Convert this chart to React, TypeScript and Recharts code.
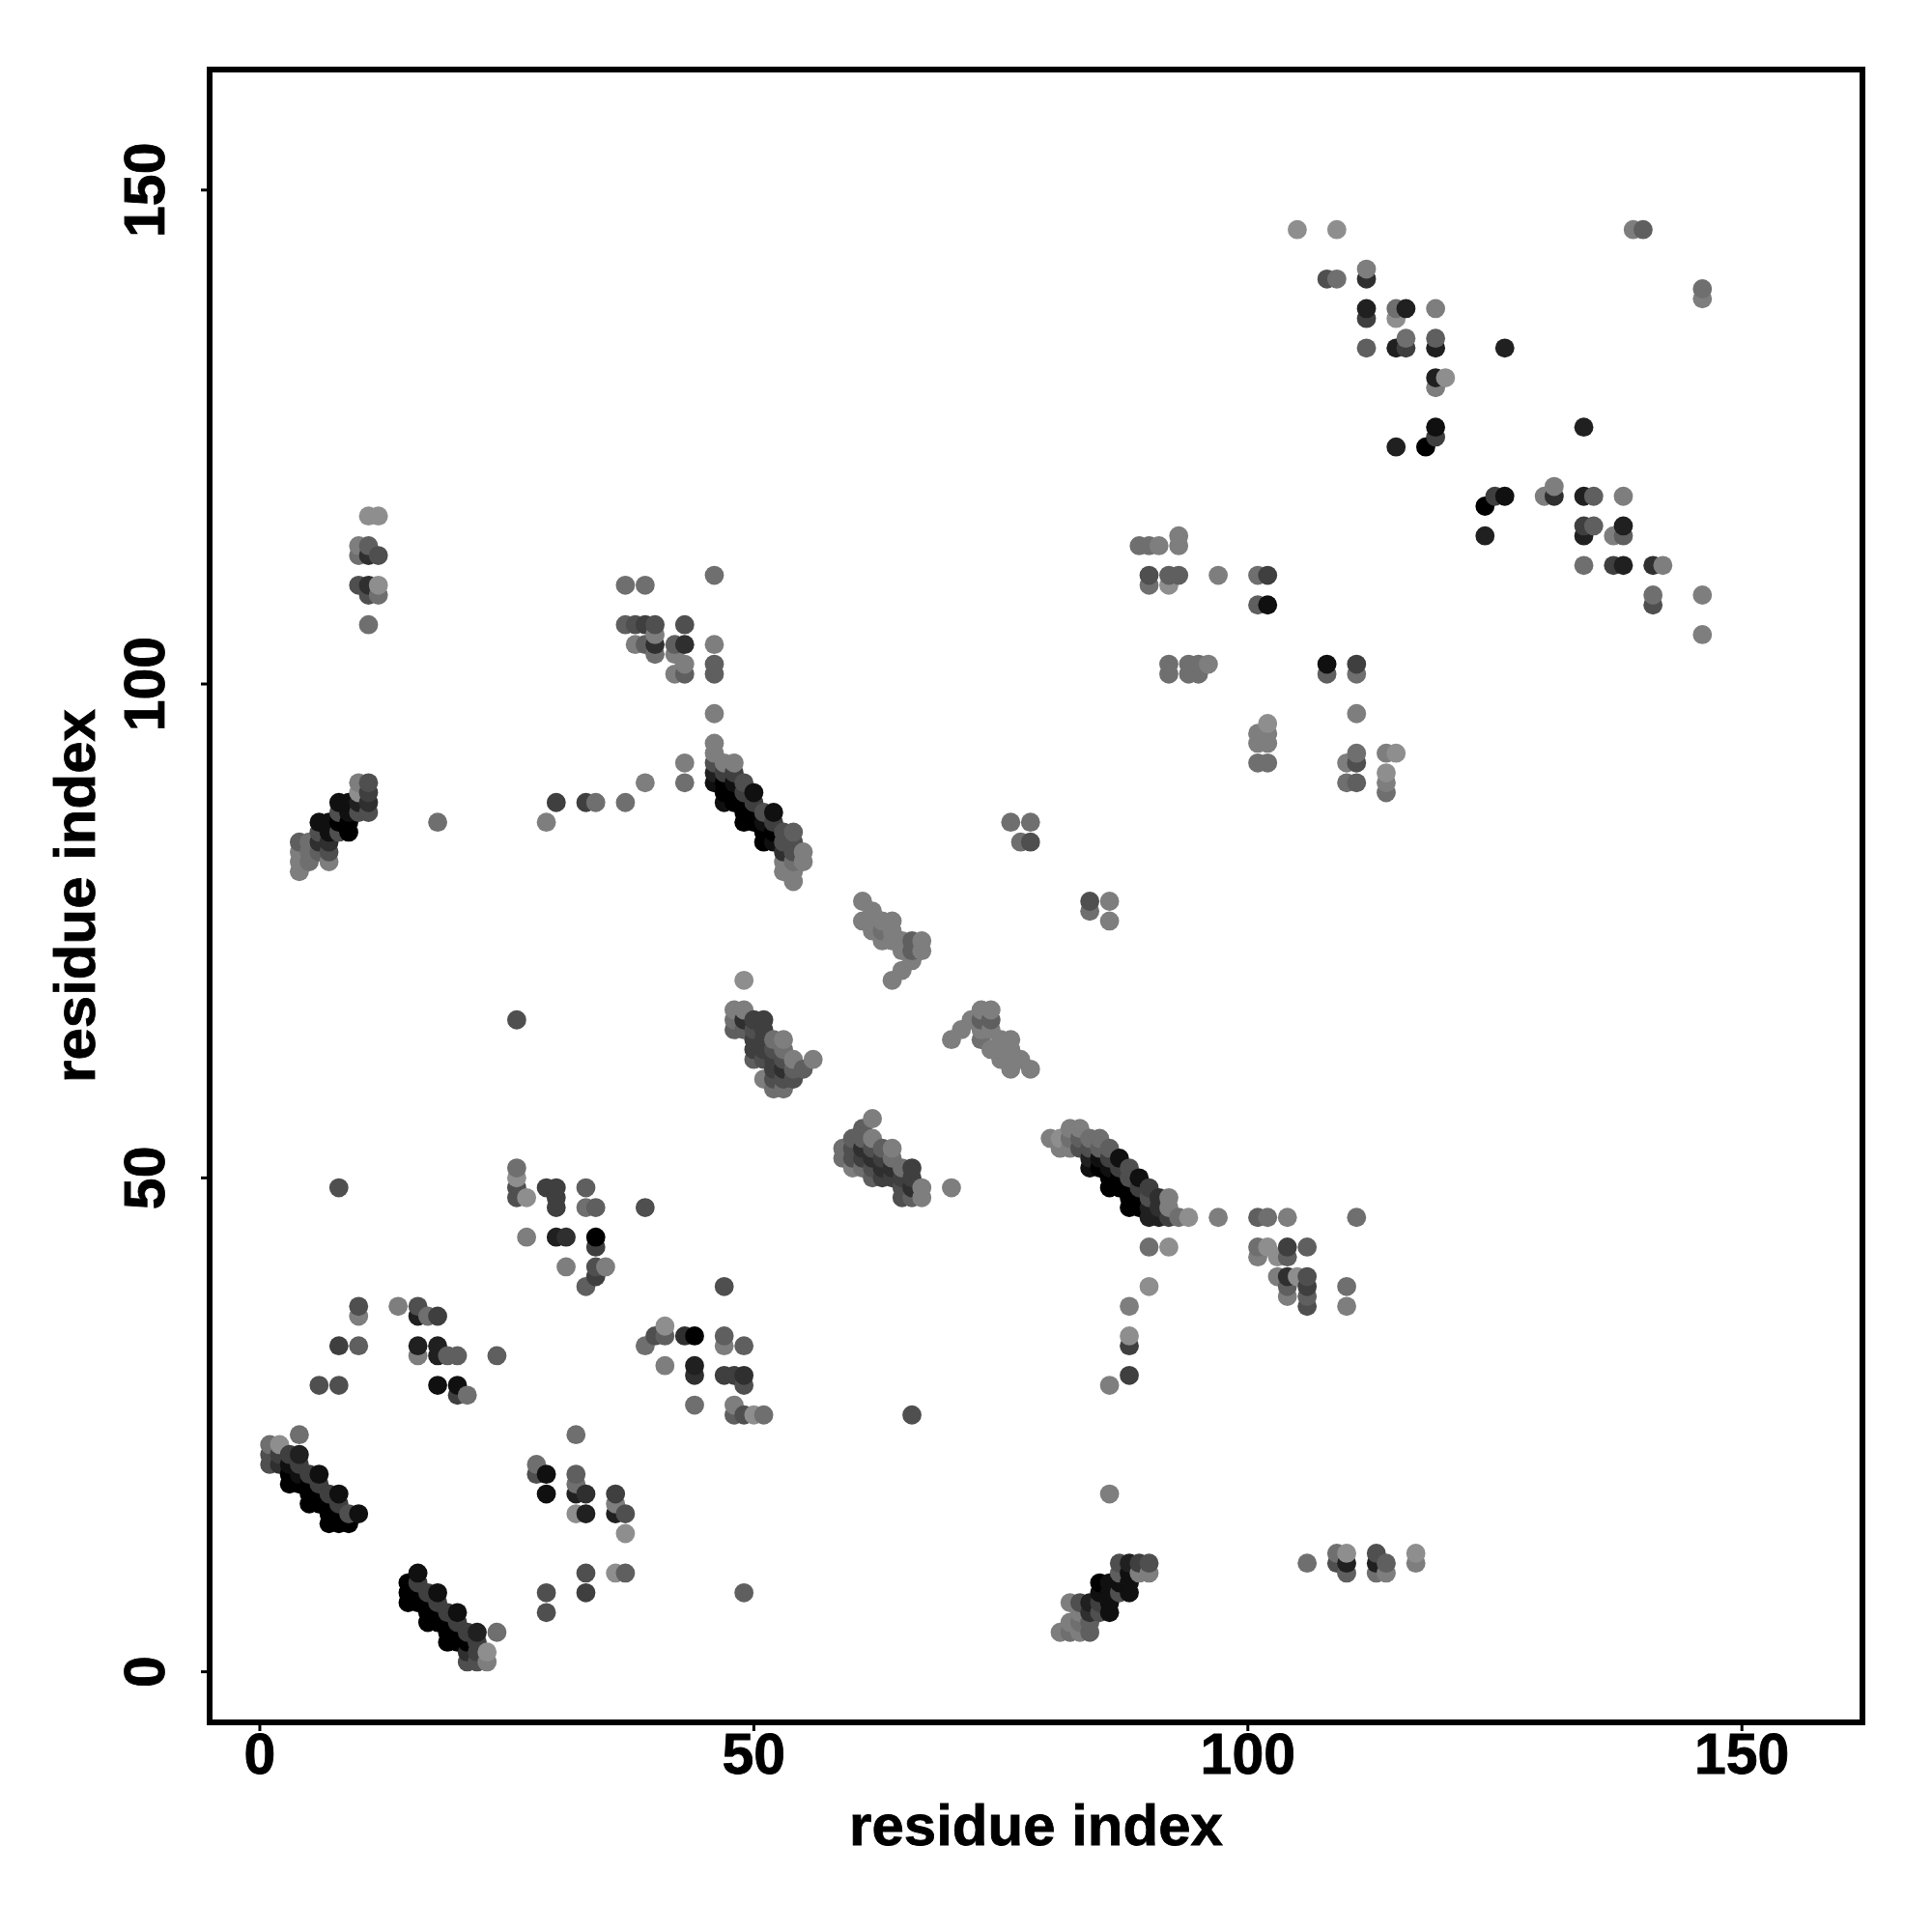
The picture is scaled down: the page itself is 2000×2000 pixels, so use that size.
import React from 'react';
import { ScatterChart, Scatter, XAxis, YAxis, ReferenceArea } from 'recharts';

type C = [number, number, number];

const axisTicks = [0, 50, 100, 150];
const xDomain = [-5.08, 162.2];
const yDomain = [-5.12, 162.2];

const helixA: C[] = [[4,24,7],[1,23,7],[2,23,9],[1,22,5],[1,21,5],[2,22,4],[2,21,3],[3,22,4],[4,22,2],[3,21,1],[4,21,4],[3,20,0],[3,19,0],[4,20,1],[5,20,4],[6,20,1],[4,19,0],[5,19,0],[6,19,4],[5,18,0],[6,18,0],[7,18,4],[8,18,1],[5,17,0],[6,17,0],[7,17,0],[8,17,4],[7,16,0],[8,16,0],[9,16,5],[10,16,1],[7,15,0],[8,15,0],[9,15,0]];
const helixB: C[] = [[16,10,1],[15,9,0],[15,8,0],[15,7,0],[16,9,4],[16,8,0],[16,7,0],[17,8,4],[18,8,1],[17,7,0],[17,6,0],[17,5,0],[18,7,4],[18,6,0],[18,5,0],[19,6,4],[20,6,1],[19,5,0],[19,4,0],[19,3,0],[20,5,4],[20,4,0],[20,3,0],[21,4,4],[22,4,2],[21,3,0],[21,2,3],[21,1,5],[22,3,4],[22,2,4],[22,1,5],[23,2,9],[23,1,8],[24,4,7]];
const lowLeftSparse: C[] = [[8,49,5],[10,37,5],[10,36,8],[8,33,4],[10,33,6],[6,29,5],[8,29,5],[14,37,8],[16,37,5],[16,36,2],[17,36,7],[18,36,4],[16,33,2],[16,32,8],[18,33,2],[18,32,2],[19,32,6],[20,32,6],[18,29,1],[20,29,1],[20,28,4],[21,28,7],[24,32,6],[26,66,5]];
const midLeftSparse: C[] = [[26,51,7],[26,50,9],[26,49,5],[26,48,5],[27,48,9],[27,44,8],[29,49,4],[30,49,4],[30,48,4],[30,47,4],[33,49,6],[33,47,7],[34,47,6],[39,47,5],[30,44,2],[31,44,3],[34,44,0],[34,43,4],[34,41,5],[35,41,8],[34,40,4],[33,39,6],[31,41,8],[47,39,5]];
const midSparse: C[] = [[41,35,9],[40,34,5],[41,34,6],[39,33,7],[43,34,3],[44,34,0],[41,31,8],[44,31,2],[44,30,3],[44,27,7],[47,34,6],[47,33,8],[49,33,6],[47,30,4],[48,30,4],[49,30,3],[49,29,5],[48,27,8],[48,26,6],[49,26,5],[50,26,9],[51,26,7],[66,26,5],[70,49,8],[49,70,9]];
const lowMidSparse: C[] = [[32,24,7],[28,21,7],[28,20,5],[29,20,1],[29,18,1],[32,20,6],[32,19,7],[32,18,2],[33,18,3],[32,16,9],[33,16,2],[36,18,4],[36,17,8],[36,16,2],[37,16,5],[37,14,9],[33,10,5],[36,10,9],[37,10,6],[29,8,5],[33,8,4],[29,6,5],[49,8,6]];
const sheetB: C[] = [[87,11,5],[88,11,2],[89,11,4],[90,11,5],[87,10,6],[88,10,1],[89,10,8],[90,10,8],[85,9,0],[86,9,1],[87,9,1],[88,9,1],[85,8,1],[86,8,1],[87,8,5],[88,8,1],[82,7,8],[83,7,5],[84,7,2],[85,7,4],[86,7,1],[83,6,8],[84,6,3],[85,6,5],[86,6,1],[82,5,8],[83,5,7],[84,5,6],[81,4,8],[82,4,7],[83,4,8],[84,4,6]];
const helixC: C[] = [[82,55,8],[83,55,8],[80,54,8],[81,54,9],[82,54,7],[83,54,6],[84,54,7],[85,54,7],[81,53,8],[82,53,8],[83,53,5],[84,53,5],[84,52,2],[84,51,1],[85,53,6],[85,52,1],[85,51,0],[86,53,6],[86,52,4],[86,51,1],[86,50,0],[86,49,0],[87,52,1],[87,51,4],[87,50,0],[87,49,0],[88,51,5],[88,50,5],[88,49,0],[88,48,0],[88,47,0],[89,50,1],[89,49,4],[89,48,0],[89,47,0],[90,49,4],[90,48,5],[90,47,2],[90,46,2],[91,48,3],[91,47,3],[91,46,2],[92,48,8],[92,47,8],[92,46,4],[93,46,7],[94,46,9],[97,46,8]];
const midRightSparse: C[] = [[101,46,6],[102,46,7],[104,46,8],[111,46,7],[90,43,7],[92,43,9],[101,43,7],[101,42,8],[102,43,9],[103,42,9],[104,43,4],[104,42,6],[106,43,6],[103,40,8],[104,40,3],[104,39,6],[104,38,8],[105,40,9],[106,40,5],[106,39,4],[106,38,6],[106,37,5],[110,39,7],[110,37,8]];
const verticalSparse: C[] = [[90,39,9],[88,37,8],[88,34,9],[88,33,4],[88,30,4],[86,29,8],[86,18,8]];
const lowRightSparse: C[] = [[106,11,7],[109,12,7],[109,11,5],[110,12,9],[110,11,2],[110,10,6],[113,12,5],[113,11,2],[113,10,7],[114,11,6],[114,10,8],[117,12,9],[117,11,8]];
const loopF: C[] = [[61,78,8],[62,77,8],[61,76,8],[62,76,8],[63,76,8],[64,76,8],[62,75,8],[63,75,7],[64,75,8],[63,74,8],[64,74,8],[65,74,8],[66,74,6],[67,74,8],[65,73,8],[66,73,6],[67,73,8],[66,72,8],[65,71,8],[64,70,8]];
const loopG: C[] = [[70,64,8],[71,65,8],[72,66,8],[73,67,8],[74,67,8],[73,66,6],[74,66,6],[73,65,8],[74,65,8],[73,64,7],[74,63,8],[75,62,8],[76,61,8],[78,61,8],[75,64,8],[76,64,8],[75,63,8],[76,63,8],[77,62,8],[76,62,8]];
const clusterD1: C[] = [[48,67,8],[49,67,8],[48,66,7],[48,65,6],[49,66,3],[49,65,6],[50,66,4],[51,66,4],[50,65,5],[51,65,4],[50,64,4],[50,63,4],[50,62,6],[51,64,4],[51,63,4],[51,62,5],[52,64,7],[53,64,8],[52,63,5],[52,62,4],[52,61,4],[51,60,8],[53,63,7],[53,62,5],[53,61,3],[52,60,5],[52,59,7],[53,59,7],[53,60,5],[54,62,8],[54,61,6],[54,60,5],[55,61,6],[56,62,8]];
const clusterD2: C[] = [[62,56,8],[61,55,6],[62,54,8],[60,54,6],[61,54,6],[59,53,7],[59,52,7],[60,53,5],[60,52,5],[60,51,8],[61,53,3],[61,52,4],[61,51,7],[62,52,3],[62,53,5],[62,51,5],[62,50,6],[63,53,6],[64,53,8],[63,52,4],[63,51,3],[63,50,4],[64,52,7],[64,51,3],[64,50,4],[65,51,7],[65,50,4],[66,51,4],[66,50,4],[66,49,3],[67,49,8],[67,48,8],[65,49,5],[65,48,5],[66,48,6]];
const helixE: C[] = [[46,94,8],[46,93,8],[46,92,5],[46,91,2],[46,90,1],[47,92,8],[48,92,8],[47,91,4],[47,90,0],[47,89,0],[47,88,1],[48,91,4],[48,90,1],[48,89,0],[48,88,0],[49,90,5],[49,89,4],[49,88,0],[49,87,0],[49,86,0],[50,89,1],[50,88,4],[50,87,0],[50,86,0],[51,87,5],[52,87,1],[51,86,1],[51,85,0],[51,84,0],[52,86,4],[52,85,0],[52,84,1],[53,85,5],[54,85,6],[53,84,5],[53,83,3],[53,82,8],[53,81,8],[54,84,5],[54,83,5],[54,82,7],[54,81,8],[54,80,8],[55,83,8],[55,82,8]];
const sheetE: C[] = [[10,90,8],[11,90,5],[10,89,9],[11,89,4],[11,88,3],[11,87,5],[10,88,2],[10,87,5],[8,88,1],[9,88,1],[8,87,5],[9,87,1],[9,86,0],[9,85,0],[8,86,0],[8,85,5],[6,86,1],[7,86,1],[6,85,5],[6,84,3],[7,85,1],[7,84,3],[7,83,5],[7,82,8],[4,84,6],[5,84,7],[4,83,8],[4,82,8],[4,81,8],[5,83,7],[5,82,7],[6,83,6]];
const upperLeftSparse: C[] = [[11,117,9],[12,117,9],[10,114,8],[11,114,6],[10,113,7],[11,113,3],[12,113,5],[10,110,5],[11,110,3],[12,110,9],[11,109,5],[12,109,7],[11,106,7],[18,86,7],[29,86,8],[30,88,4],[33,88,4],[34,88,7],[37,88,7],[39,90,8],[43,92,8],[43,90,7],[46,97,8]];
const upperMidSparse: C[] = [[37,110,7],[39,110,7],[46,111,7],[37,106,6],[38,106,5],[39,106,4],[40,106,5],[43,106,5],[38,104,8],[39,104,6],[40,105,8],[40,104,3],[40,103,7],[42,104,6],[43,104,3],[42,103,8],[43,102,8],[42,101,8],[43,101,6],[46,104,8],[46,102,6],[46,101,6]];
const topSparse: C[] = [[105,146,9],[109,146,9],[139,146,8],[140,146,6],[108,141,5],[109,141,7],[112,142,8],[112,141,3],[112,138,2],[112,137,4],[115,138,7],[115,137,9],[116,138,2],[119,138,8],[112,134,6],[115,134,2],[116,135,7],[116,134,4],[119,135,6],[119,134,2],[126,134,2],[119,131,2],[120,131,9],[119,130,8],[119,126,1],[119,125,4],[115,124,2],[118,124,0],[134,126,2],[146,140,7],[146,139,8]];
const rightSparse: C[] = [[124,118,0],[124,115,2],[125,119,4],[126,119,1],[130,119,8],[131,120,8],[131,119,3],[134,119,2],[135,119,6],[138,119,8],[134,116,4],[134,115,2],[135,116,6],[137,115,8],[138,116,2],[138,115,6],[134,112,7],[137,112,4],[138,112,2],[141,112,3],[142,112,8],[141,109,7],[141,108,5],[146,109,8],[146,105,8]];
const centerRightA: C[] = [[89,114,7],[90,114,7],[91,114,8],[93,115,8],[93,114,8],[90,111,5],[90,110,7],[92,111,6],[92,110,9],[93,111,6],[97,111,8],[101,111,7],[102,111,4],[101,108,6],[102,108,1],[92,102,7],[92,101,7],[94,102,7],[94,101,7],[95,102,7],[95,101,7],[96,102,8],[108,102,1],[108,101,6],[111,102,4],[111,101,7],[111,97,8]];
const centerRightB: C[] = [[101,95,8],[101,94,8],[101,92,7],[102,96,9],[102,95,8],[102,94,8],[102,92,7],[110,92,8],[110,90,7],[111,93,7],[111,92,5],[111,90,6],[114,93,8],[115,93,9],[114,91,9],[114,90,8],[114,89,7],[76,86,7],[78,86,7],[77,84,7],[78,84,5],[84,78,5],[84,77,7],[86,78,8],[86,76,8]];

const groups = [helixA, helixB, lowLeftSparse, midLeftSparse, midSparse, lowMidSparse, sheetB, helixC, midRightSparse, verticalSparse, lowRightSparse, loopF, loopG, clusterD1, clusterD2, helixE, sheetE, upperLeftSparse, upperMidSparse, topSparse, rightSparse, centerRightA, centerRightB];

const contacts = groups
  .flat()
  .map(([x, y, level]) => ({ x, y, level }))
  .sort((a, b) => a.x - b.x || a.y - b.y);

const FONT = '"Liberation Sans", Arial, sans-serif';
const txt = { fontFamily: FONT, fontWeight: 700, fontSize: 59, fill: '#000', stroke: '#000', strokeWidth: 0.8 };

const Dot = (p: any) => {
  const g = Math.round(p.payload.level * 15.8);
  return <circle cx={p.cx} cy={p.cy} r={9.9} fill={`rgb(${g},${g},${g})`} />;
};

const XTick = (p: any) => (
  <text x={p.x} y={p.y + 42} textAnchor="middle" {...txt}>{p.payload.value}</text>
);
const YTick = (p: any) => (
  <text x={p.x} y={p.y} transform={`rotate(-90 ${p.x - 36} ${p.y})`} dx={-36} textAnchor="middle" {...txt}>{p.payload.value}</text>
);

export default function App() {
  return (
    <div style={{ position: 'absolute', left: 0, top: 0, width: 2000, height: 2000, background: '#fff' }}>
      <ScatterChart width={2000} height={2000} margin={{ top: 72, right: 72, left: 0, bottom: 0 }}>
        <XAxis
          type="number"
          dataKey="x"
          domain={xDomain}
          ticks={axisTicks}
          allowDataOverflow
          height={217}
          axisLine={false}
          tickLine={{ stroke: '#000', strokeWidth: 3 }}
          tickSize={9}
          tick={<XTick />}
          label={{ value: 'residue index', position: 'insideBottom', offset: 90, ...txt, fontSize: 60 }}
        />
        <YAxis
          type="number"
          dataKey="y"
          domain={yDomain}
          ticks={axisTicks}
          allowDataOverflow
          width={217}
          axisLine={false}
          tickLine={{ stroke: '#000', strokeWidth: 3 }}
          tickSize={9}
          tick={<YTick />}
          label={{ value: 'residue index', angle: -90, position: 'insideLeft', offset: 77, ...txt, fontSize: 60, style: { textAnchor: 'middle' } }}
        />
        <Scatter data={contacts} shape={<Dot />} isAnimationActive={false} />
        <ReferenceArea x1={xDomain[0]} x2={xDomain[1]} y1={yDomain[0]} y2={yDomain[1]} fill="none" stroke="#000" strokeWidth={6} fillOpacity={0} strokeOpacity={1} />
      </ScatterChart>
    </div>
  );
}
